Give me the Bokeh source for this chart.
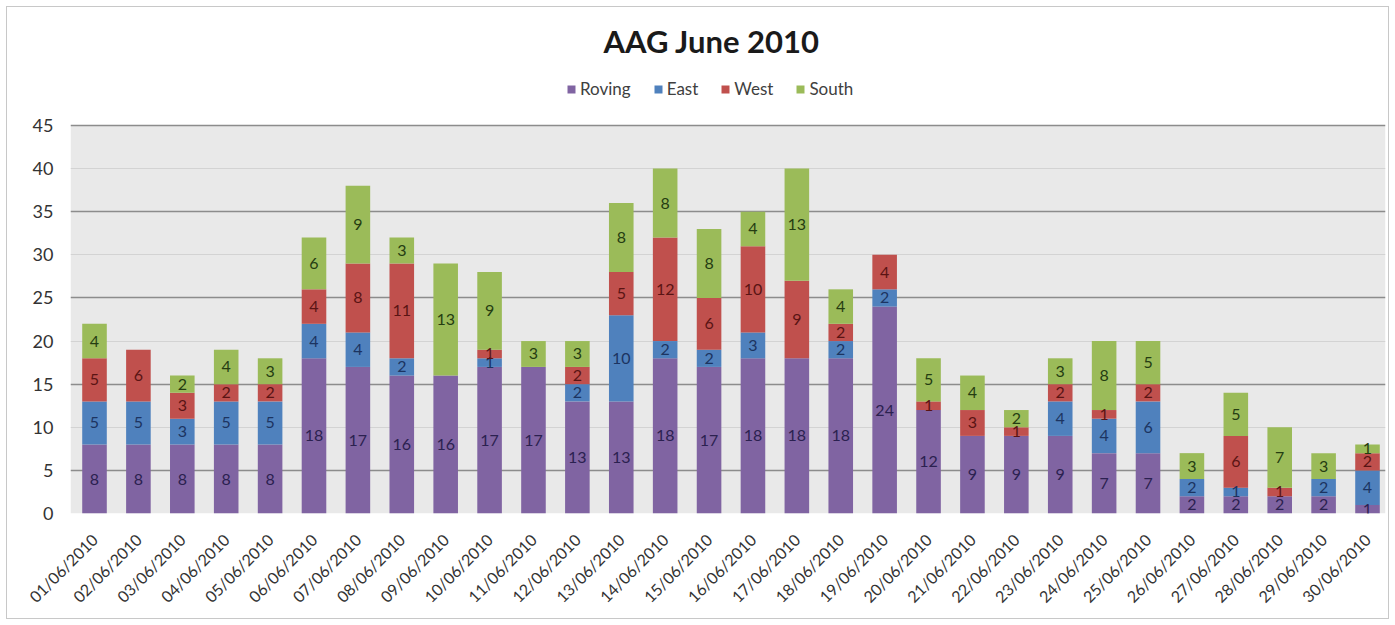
import numpy as np
from math import pi
from bokeh.plotting import figure
from bokeh.models import (ColumnDataSource, FixedTicker, Grid, Legend, LegendItem,
                          LabelSet, BoxAnnotation)
from bokeh.embed import file_html
from bokeh.resources import INLINE
from bokeh.core.properties import value

dates = ["01/06/2010", "02/06/2010", "03/06/2010", "04/06/2010", "05/06/2010",
         "06/06/2010", "07/06/2010", "08/06/2010", "09/06/2010", "10/06/2010",
         "11/06/2010", "12/06/2010", "13/06/2010", "14/06/2010", "15/06/2010",
         "16/06/2010", "17/06/2010", "18/06/2010", "19/06/2010", "20/06/2010",
         "21/06/2010", "22/06/2010", "23/06/2010", "24/06/2010", "25/06/2010",
         "26/06/2010", "27/06/2010", "28/06/2010", "29/06/2010", "30/06/2010"]
roving = [8, 8, 8, 8, 8, 18, 17, 16, 16, 17, 17, 13, 13, 18, 17, 18, 18, 18, 24, 12,
          9, 9, 9, 7, 7, 2, 2, 2, 2, 1]
east = [5, 5, 3, 5, 5, 4, 4, 2, 0, 1, 0, 2, 10, 2, 2, 3, 0, 2, 2, 0,
        0, 0, 4, 4, 6, 2, 1, 0, 2, 4]
west = [5, 6, 3, 2, 2, 4, 8, 11, 0, 1, 0, 2, 5, 12, 6, 10, 9, 2, 4, 1,
        3, 1, 2, 1, 2, 0, 6, 1, 0, 2]
south = [4, 0, 2, 4, 3, 6, 9, 3, 13, 9, 3, 3, 8, 8, 8, 4, 13, 4, 0, 5,
         4, 2, 3, 8, 5, 3, 5, 7, 3, 1]
series = ["Roving", "East", "West", "South"]
y_ticks = list(range(0, 50, 5))
colors = ["#8064A2", "#4F81BD", "#C0504D", "#9BBB59"]
label_colors = ["#2b2150", "#1c3461", "#5a1414", "#253d12"]

FONT = "Lato"
W, H = 1395, 625
FR_L, FR_R, FR_T, FR_B = 70, 1385, 62, 513   # frame edges in px
Y45_PX = 125                                 # pixel row of the 45 gridline
YMAX = 45
px_per_unit = (FR_B - Y45_PX) / YMAX
y_end = YMAX + (Y45_PX - FR_T) / px_per_unit

x = list(range(1, len(dates) + 1))
data = {"x": x, "Roving": roving, "East": east, "West": west, "South": south}
src = ColumnDataSource(data)

p = figure(width=W, height=H, x_range=(0.453, 30.41), y_range=(0, y_end),
           output_backend="svg", toolbar_location=None,
           min_border_left=FR_L, min_border_right=W - FR_R, min_border_top=FR_T,
           min_border_bottom=H - FR_B)
p.background_fill_color = None
p.border_fill_color = None
p.outline_line_color = None

# grey plot area (0..45)
p.add_layout(BoxAnnotation(bottom=0, top=YMAX, fill_color="#e9e9e9", fill_alpha=1,
                           line_color=None, level="image"))

p.title.text = "AAG June 2010"
p.title.align = "left"
p.title.offset = 533
p.title.text_font = FONT
p.title.text_font_size = "31px"
p.title.text_font_style = "bold"
p.title.text_color = "#1a1a1a"
p.title.standoff = 5

rs = p.vbar_stack(series, x="x", width=0.56, color=colors, source=src, line_color=None)

# segment labels
lx, ly, lt, lc = [], [], [], []
base = np.zeros(len(x))
for name, vals, col in zip(series, [roving, east, west, south], label_colors):
    v = np.array(vals, dtype=float)
    for i in range(len(x)):
        if v[i] > 0:
            lx.append(x[i])
            ly.append(base[i] + v[i] / 2.0)
            lt.append(str(int(v[i])))
            lc.append(col)
    base = base + v
lsrc = ColumnDataSource(dict(x=lx, y=ly, t=lt, c=lc))
labels = LabelSet(x="x", y="y", text="t", source=lsrc, text_align="center",
                  text_baseline="middle", text_font_size="16px",
                  text_font=value(FONT), text_color="c")
p.add_layout(labels)

# grids
p.xgrid.visible = False
p.ygrid.ticker = FixedTicker(ticks=[0, 10, 20, 30, 40])
p.ygrid.grid_line_color = "#d3d3d3"
p.add_layout(Grid(dimension=1, ticker=FixedTicker(ticks=[5, 15, 25, 35, 45]),
                  grid_line_color="#8c8c8c", grid_line_width=1.5))

# axes
p.yaxis.ticker = FixedTicker(ticks=y_ticks)
p.yaxis.axis_line_color = None
p.yaxis.major_tick_line_color = None
p.yaxis.major_tick_out = 0
p.yaxis.major_tick_in = 0
p.yaxis.minor_tick_line_color = None
p.yaxis.major_label_standoff = 17
p.yaxis.major_label_text_font = FONT
p.yaxis.major_label_text_font_size = "18px"
p.yaxis.major_label_text_color = "#333333"

p.xaxis.ticker = FixedTicker(ticks=x)
p.xaxis.major_label_overrides = {i: d for i, d in zip(x, dates)}
p.xaxis.major_label_orientation = pi / 4
p.xaxis.axis_line_color = None
p.xaxis.major_tick_line_color = None
p.xaxis.major_tick_out = 0
p.xaxis.major_tick_in = 0
p.xaxis.minor_tick_line_color = None
p.xaxis.major_label_standoff = 23
p.xaxis.major_label_text_font = FONT
p.xaxis.major_label_text_font_size = "16px"
p.xaxis.major_label_text_color = "#333333"

legend = Legend(items=[LegendItem(label=s, renderers=[r]) for s, r in zip(series, rs)],
                orientation="horizontal", location=(496, 414),
                glyph_width=10, glyph_height=10, label_standoff=4, spacing=22,
                label_text_font=FONT, label_text_font_size="17px",
                label_text_color="#404040", border_line_color=None,
                background_fill_alpha=0, margin=0, padding=0)
p.add_layout(legend)

p.styles = {"background": "white",
            "box-shadow": "inset 0 0 0 6px white, inset 0 0 0 7px #c8c8c8"}

open("out.html", "w").write(file_html(p, INLINE))
